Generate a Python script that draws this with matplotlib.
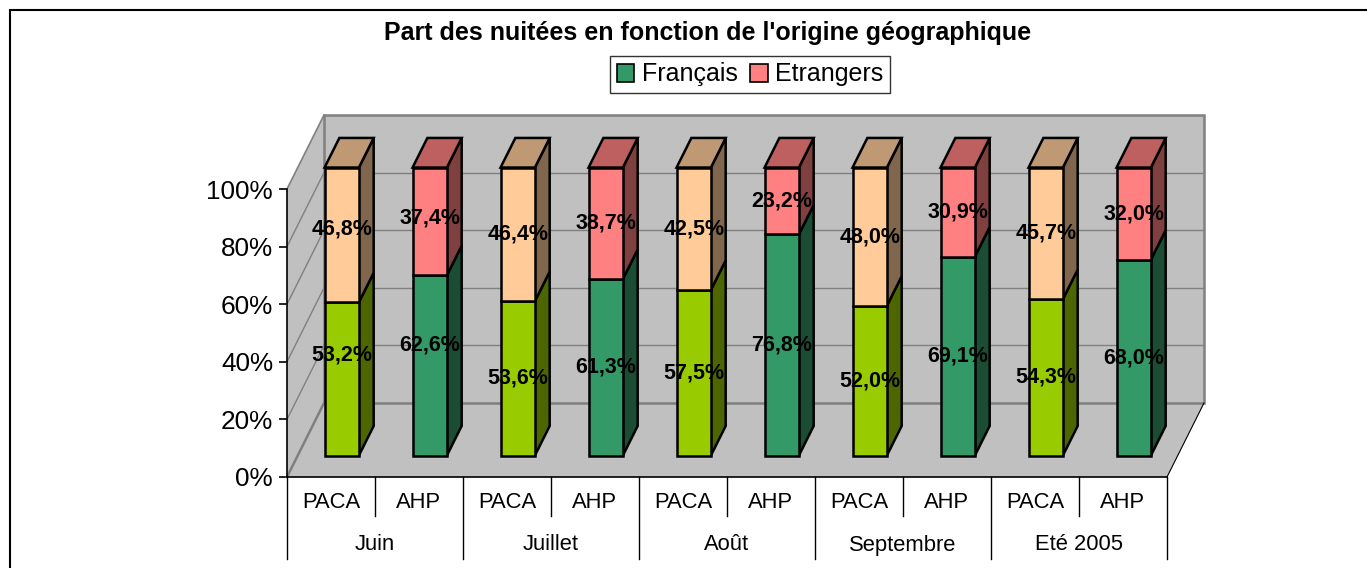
import matplotlib
import numpy as np

matplotlib.use('Agg')
import matplotlib.pyplot as plt
from matplotlib.patches import Polygon, Rectangle, Patch
from matplotlib.ticker import FuncFormatter

plt.rcParams['font.family'] = ['Liberation Sans', 'DejaVu Sans']

# part des nuitées (%), PACA / AHP par mois
months = ['Juin', 'Juillet', 'Août', 'Septembre', 'Eté 2005']
regions = ['PACA', 'AHP']
francais = [53.2, 62.6, 53.6, 61.3, 57.5, 76.8, 52.0, 69.1, 54.3, 68.0]
etrangers = [46.8, 37.4, 46.4, 38.7, 42.5, 23.2, 48.0, 30.9, 45.7, 32.0]

FR_COLORS = {'PACA': '#99CC00', 'AHP': '#339966'}
ET_COLORS = {'PACA': '#FFCC99', 'AHP': '#FF8080'}
WALL = '#C0C0C0'
GRID = '#808080'

W, H = 1367, 568
# depth vector in data units (category units, fraction of 100%)
DX = 37 / 88
DY = 74 / 288
Z0, Z1 = 0.29, 0.69     # bar front / back depth
HW = 0.195              # bar half width

# the Juin labels were dragged up a bit in the original workbook (pixels)
LABEL_NUDGE = {(0, 0): 24, (1, 0): 20, (0, 1): 6, (1, 1): 3}


def shade(color, f):
    r, g, b = matplotlib.colors.to_rgb(color)
    return (r * f, g * f, b * f)


def segment(ax, c, y0, y1, color, top):
    xa, xb = c - HW, c + HW
    front = [(xa + Z0 * DX, y0 + Z0 * DY), (xb + Z0 * DX, y0 + Z0 * DY),
             (xb + Z0 * DX, y1 + Z0 * DY), (xa + Z0 * DX, y1 + Z0 * DY)]
    side = [(xb + Z0 * DX, y0 + Z0 * DY), (xb + Z1 * DX, y0 + Z1 * DY),
            (xb + Z1 * DX, y1 + Z1 * DY), (xb + Z0 * DX, y1 + Z0 * DY)]
    faces = [(side, shade(color, 0.5)), (front, color)]
    if top:
        lid = [(xa + Z0 * DX, y1 + Z0 * DY), (xb + Z0 * DX, y1 + Z0 * DY),
               (xb + Z1 * DX, y1 + Z1 * DY), (xa + Z1 * DX, y1 + Z1 * DY)]
        faces.append((lid, shade(color, 0.75)))
    for pts, col in faces:
        ax.add_patch(Polygon(pts, closed=True, facecolor=col, edgecolor='black',
                             lw=1.8, joinstyle='miter', zorder=5, clip_on=False))


fig = plt.figure(figsize=(W / 100, H / 100), dpi=100)
ax = fig.add_axes([287 / W, (H - 477) / H, 880 / W, 288 / H])
ax.set_xlim(0, 10)
ax.set_ylim(0, 1)
ax.patch.set_visible(False)
for s in ['top', 'right']:
    ax.spines[s].set_visible(False)
ax.spines['left'].set_linewidth(1.2)
ax.spines['bottom'].set_linewidth(1.2)
ax.spines['left'].set_zorder(6)
ax.spines['bottom'].set_zorder(6)
n = len(francais)

# walls and floor
back = [(DX, DY), (n + DX, DY), (n + DX, 1 + DY), (DX, 1 + DY)]
left = [(0, 0), (DX, DY), (DX, 1 + DY), (0, 1)]
floor = [(0, 0), (n, 0), (n + DX, DY), (DX, DY)]
for pts in (back, left, floor):
    ax.add_patch(Polygon(pts, closed=True, facecolor=WALL, edgecolor='none', zorder=1, clip_on=False))
ax.add_patch(Polygon(back, closed=True, facecolor='none', edgecolor=GRID, lw=1.8, zorder=2, clip_on=False))
ax.plot([0, DX], [1, 1 + DY], color=GRID, lw=1.2, zorder=2, clip_on=False)
ax.plot([0, DX], [0, DY], color=GRID, lw=1.8, zorder=2, clip_on=False)
ax.plot([n, n + DX], [0, DY], color='black', lw=0.8, zorder=2, clip_on=False)
for g in [0.2, 0.4, 0.6, 0.8]:
    ax.plot([DX, n + DX], [g + DY, g + DY], color=GRID, lw=1.0, zorder=2, clip_on=False)
    ax.plot([0, DX], [g, g + DY], color=GRID, lw=1.0, zorder=2, clip_on=False)

# bars
for i in range(n):
    reg = regions[i % 2]
    c = i + 0.5
    fr = francais[i] / 100
    et = etrangers[i] / 100
    segment(ax, c, 0, fr, FR_COLORS[reg], False)
    segment(ax, c, fr, fr + et, ET_COLORS[reg], True)
    for s, (y0, y1, v) in enumerate([(0, fr, francais[i]), (fr, fr + et, etrangers[i])]):
        ny = LABEL_NUDGE.get((i, s), 0) / 288
        ax.text(c + Z0 * DX, (y0 + y1) / 2 + Z0 * DY + ny, f'{v:.1f}%'.replace('.', ','),
                ha='center', va='center', fontsize=15.5, fontweight='bold', zorder=8)

# y axis
ax.set_yticks([0, 0.2, 0.4, 0.6, 0.8, 1.0])
ax.yaxis.set_major_formatter(FuncFormatter(lambda v, p: f'{v * 100:.0f}%'))
ax.tick_params(axis='y', labelsize=18.8, length=6, width=1.2, pad=4)
ax.set_xticks([])

# category table under the floor
r1 = -39 / 288
r2 = -82 / 288
for k in range(0, n + 1, 2):
    ax.plot([k, k], [0, r2], color='black', lw=1.0, clip_on=False)
for k in range(1, n, 2):
    ax.plot([k, k], [0, r1], color='black', lw=1.0, clip_on=False)
for i in range(n):
    ax.text(i + 0.5, -25 / 288, regions[i % 2], ha='center', va='center', fontsize=15.8)
for j, m in enumerate(months):
    ax.text(2 * j + 1, -68 / 288, m, ha='center', va='center', fontsize=15.8)

fig.text(708 / W, 1 - 33 / H, "Part des nuitées en fonction de l'origine géographique",
         ha='center', va='center', fontsize=18, fontweight='bold')

handles = [Patch(facecolor=FR_COLORS['AHP'], edgecolor='black', lw=1.2, label='Français'),
           Patch(facecolor=ET_COLORS['AHP'], edgecolor='black', lw=1.2, label='Etrangers')]
leg = fig.legend(handles=handles, loc='center', bbox_to_anchor=(750 / W, 1 - 74.5 / H), ncol=2,
                 fontsize=18, frameon=True, fancybox=False, handlelength=0.7, handleheight=0.7,
                 handletextpad=0.3, columnspacing=0.5, borderpad=0.25, borderaxespad=0)
leg.get_frame().set_edgecolor('black')
leg.get_frame().set_linewidth(1.0)

# chart area border (runs past the right and bottom edges)
fig.add_artist(Rectangle((10 / W, -0.05), 1.1, 1.05 - 10 / H, transform=fig.transFigure,
                         facecolor='none', edgecolor='black', lw=1.5))

fig.savefig('out.png', dpi=100)
